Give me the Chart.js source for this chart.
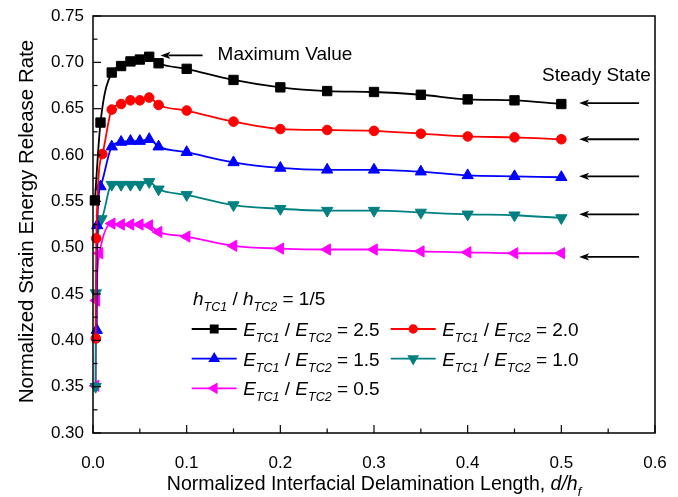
<!DOCTYPE html>
<html><head><meta charset="utf-8">
<script src="https://cdn.jsdelivr.net/npm/chart.js@4/dist/chart.umd.min.js"></script>
<style>html,body{margin:0;padding:0;background:#fff}canvas{display:block}</style>
</head><body>
<canvas id="c" width="678" height="497"></canvas>
<script>
// ---- data ----
const ratioLabels = ['2.5', '2.0', '1.5', '1.0', '0.5'];
const headerRatio = '1/5';
const xTickValues = [0, 0.1, 0.2, 0.3, 0.4, 0.5, 0.6];
const yTickValues = [0.30, 0.35, 0.40, 0.45, 0.50, 0.55, 0.60, 0.65, 0.70, 0.75];

const xBlack = [0.002, 0.008, 0.02, 0.03, 0.04, 0.05, 0.06, 0.07, 0.1, 0.15, 0.2, 0.25, 0.3, 0.35, 0.4, 0.45, 0.5];
const yBlack = [0.551, 0.635, 0.689, 0.696, 0.701, 0.703, 0.706, 0.699, 0.693, 0.681, 0.673, 0.669, 0.668, 0.665, 0.660, 0.659, 0.655];

const xRed = [0.003, 0.0035, 0.01, 0.02, 0.03, 0.04, 0.05, 0.06, 0.07, 0.1, 0.15, 0.2, 0.25, 0.3, 0.35, 0.4, 0.45, 0.5];
const yRed = [0.402, 0.510, 0.601, 0.649, 0.655, 0.659, 0.659, 0.662, 0.654, 0.648, 0.636, 0.628, 0.627, 0.626, 0.623, 0.620, 0.619, 0.617];

const xBlue = [0.004, 0.0045, 0.008, 0.02, 0.03, 0.04, 0.05, 0.06, 0.07, 0.1, 0.15, 0.2, 0.25, 0.3, 0.35, 0.4, 0.45, 0.5];
const yBlue = [0.411, 0.524, 0.566, 0.609, 0.614, 0.615, 0.615, 0.617, 0.609, 0.603, 0.592, 0.586, 0.584, 0.584, 0.582, 0.578, 0.577, 0.576];

const xTeal = [0.0028, 0.003, 0.009, 0.02, 0.03, 0.04, 0.05, 0.06, 0.07, 0.1, 0.15, 0.2, 0.25, 0.3, 0.35, 0.4, 0.45, 0.5];
const yTeal = [0.350, 0.451, 0.531, 0.568, 0.568, 0.568, 0.568, 0.571, 0.563, 0.557, 0.546, 0.542, 0.540, 0.540, 0.538, 0.536, 0.535, 0.532];

const xMagenta = [0.0028, 0.0036, 0.007, 0.02, 0.03, 0.04, 0.05, 0.06, 0.07, 0.1, 0.15, 0.2, 0.25, 0.3, 0.35, 0.4, 0.45, 0.5];
const yMagenta = [0.351, 0.443, 0.494, 0.526, 0.525, 0.525, 0.525, 0.524, 0.517, 0.512, 0.502, 0.499, 0.498, 0.498, 0.496, 0.495, 0.494, 0.494];

// annotations (data coordinates)
const steadyArrowY = [0.656, 0.617, 0.577, 0.536, 0.490];
const steadyArrowX = [0.519, 0.583];
const maxArrow = {xTip: 0.072, xTail: 0.117, y: 0.7075};
const maxText = {x: 0.133, y: 0.708, text: 'Maximum Value'};
const steadyText = {x: 0.5955, y: 0.686, text: 'Steady State'};

// ---- styles ----
const FONT = '"Liberation Sans", Arial, sans-serif';
const styles = [
  {color: '#000000', pointStyle: 'rect', radius: 6.6, rotation: 0, legR: 5},
  {color: '#ff0000', pointStyle: 'circle', radius: 4.8, rotation: 0, legR: 3.8},
  {color: '#0000ff', pointStyle: 'triangle', radius: 6.5, rotation: 0, legR: 5},
  {color: '#008080', pointStyle: 'triangle', radius: 6.5, rotation: 180, legR: 5},
  {color: '#ff00ff', pointStyle: 'triangle', radius: 6.5, rotation: 270, legR: 5}
];
const xs = [xBlack, xRed, xBlue, xTeal, xMagenta];
const ys = [yBlack, yRed, yBlue, yTeal, yMagenta];

const datasets = xs.map((xa, i) => ({
  label: 'E_TC1 / E_TC2 = ' + ratioLabels[i],
  data: xa.map((x, j) => ({x: x, y: ys[i][j]})),
  showLine: true,
  borderColor: styles[i].color,
  backgroundColor: styles[i].color,
  pointBackgroundColor: styles[i].color,
  pointBorderColor: styles[i].color,
  pointStyle: styles[i].pointStyle,
  pointRadius: styles[i].radius,
  pointRotation: styles[i].rotation,
  pointBorderWidth: 1,
  borderWidth: 1.8,
  cubicInterpolationMode: 'monotone',
  clip: 10
}));

function drawRich(ctx, x, baseline, parts, size, subSize) {
  let cx = x;
  for (const p of parts) {
    const fs = p.sub ? subSize : size;
    ctx.font = (p.italic ? 'italic ' : '') + fs + 'px ' + FONT;
    ctx.fillText(p.t, cx, baseline + (p.sub ? size * 0.33 : 0));
    cx += ctx.measureText(p.t).width;
  }
  return cx - x;
}
function measureRich(ctx, parts, size, subSize) {
  let w = 0;
  for (const p of parts) {
    const fs = p.sub ? subSize : size;
    ctx.font = (p.italic ? 'italic ' : '') + fs + 'px ' + FONT;
    w += ctx.measureText(p.t).width;
  }
  return w;
}
function ratioParts(letter, val) {
  return [{t: letter, italic: 1}, {t: 'TC1', italic: 1, sub: 1}, {t: ' / '},
          {t: letter, italic: 1}, {t: 'TC2', italic: 1, sub: 1}, {t: ' = ' + val}];
}
function arrow(ctx, x1, y1, x2, y2) { // from tail (x1,y1) to tip (x2,y2)
  const ang = Math.atan2(y2 - y1, x2 - x1);
  const L = 10, W = 3.6;
  ctx.beginPath();
  ctx.moveTo(x1, y1);
  ctx.lineTo(x2 - Math.cos(ang) * L * 0.8, y2 - Math.sin(ang) * L * 0.8);
  ctx.stroke();
  ctx.beginPath();
  ctx.moveTo(x2, y2);
  ctx.lineTo(x2 - Math.cos(ang) * L - Math.sin(ang) * W, y2 - Math.sin(ang) * L + Math.cos(ang) * W);
  ctx.lineTo(x2 - Math.cos(ang) * L * 0.75, y2 - Math.sin(ang) * L * 0.75);
  ctx.lineTo(x2 - Math.cos(ang) * L + Math.sin(ang) * W, y2 - Math.sin(ang) * L - Math.cos(ang) * W);
  ctx.closePath();
  ctx.fill();
}

const decor = {
  id: 'decor',
  afterDatasetsDraw(chart) {
    const {ctx, chartArea: a, scales: {x, y}} = chart;
    ctx.save();
    ctx.strokeStyle = '#000';
    ctx.lineWidth = 1.5;
    ctx.strokeRect(a.left, a.top, a.right - a.left, a.bottom - a.top);
    ctx.lineWidth = 1.2;
    // inward ticks, major + minor
    for (let k = 0; k <= 18; k++) {
      const v = 0.30 + k * 0.025;
      const py = y.getPixelForValue(v);
      const len = k % 2 === 0 ? 8 : 4.5;
      ctx.beginPath(); ctx.moveTo(a.left, py); ctx.lineTo(a.left + len, py); ctx.stroke();
    }
    for (let k = 0; k <= 12; k++) {
      const v = k * 0.05;
      const px = x.getPixelForValue(v);
      const len = k % 2 === 0 ? 8 : 4.5;
      ctx.beginPath(); ctx.moveTo(px, a.bottom); ctx.lineTo(px, a.bottom - len); ctx.stroke();
    }
    ctx.restore();
  },
  afterDraw(chart) {
    const {ctx, chartArea: a, scales: {x, y}} = chart;
    ctx.save();
    ctx.fillStyle = '#000';
    ctx.strokeStyle = '#000';
    ctx.lineWidth = 1.8;
    ctx.textBaseline = 'alphabetic';
    // steady-state arrows
    for (const v of steadyArrowY) {
      const py = y.getPixelForValue(v);
      arrow(ctx, x.getPixelForValue(steadyArrowX[1]), py, x.getPixelForValue(steadyArrowX[0]), py);
    }
    // max arrow
    const my = y.getPixelForValue(maxArrow.y);
    arrow(ctx, x.getPixelForValue(maxArrow.xTail), my, x.getPixelForValue(maxArrow.xTip), my);
    ctx.font = '19px ' + FONT;
    ctx.textBaseline = 'middle';
    ctx.textAlign = 'left';
    ctx.fillText(maxText.text, x.getPixelForValue(maxText.x), y.getPixelForValue(maxText.y));
    ctx.textAlign = 'right';
    ctx.fillText(steadyText.text, x.getPixelForValue(steadyText.x), y.getPixelForValue(steadyText.y));
    ctx.textAlign = 'left';
    ctx.textBaseline = 'alphabetic';

    // legend
    drawRich(ctx, 193, 305, [{t: 'h', italic: 1}, {t: 'TC1', italic: 1, sub: 1}, {t: ' / '},
      {t: 'h', italic: 1}, {t: 'TC2', italic: 1, sub: 1}, {t: ' = ' + headerRatio}], 19, 12.5);
    const rowsY = [329, 358.7, 388.3];
    const colX = [191.7, 390.7];
    styles.forEach((s, i) => {
      const row = Math.floor(i / 2), col = i % 2;
      const cy = rowsY[row], lx = colX[col];
      ctx.strokeStyle = s.color; ctx.fillStyle = s.color; ctx.lineWidth = 1.8;
      ctx.beginPath(); ctx.moveTo(lx, cy); ctx.lineTo(lx + 45, cy); ctx.stroke();
      Chart.helpers.drawPoint(ctx, {pointStyle: s.pointStyle, radius: s.legR, rotation: s.rotation, borderWidth: 1}, lx + 22.5, cy);
      ctx.fillStyle = '#000';
      drawRich(ctx, lx + 51.5, cy + 6.8, ratioParts('E', ratioLabels[i]), 19, 12.5);
    });

    // axis titles
    ctx.fillStyle = '#000';
    const xParts = [{t: 'Normalized Interfacial Delamination Length, '}, {t: 'd/h', italic: 1}, {t: 'f', italic: 1, sub: 1}];
    const w = measureRich(ctx, xParts, 19.5, 12.5);
    drawRich(ctx, (a.left + a.right) / 2 - w / 2, 490, xParts, 19.5, 12.5);
    ctx.translate(27, (a.top + a.bottom) / 2 - 3);
    ctx.rotate(-Math.PI / 2);
    ctx.font = '20.5px ' + FONT;
    ctx.textAlign = 'center';
    ctx.textBaseline = 'middle';
    ctx.fillText('Normalized Strain Energy Release Rate', 0, 0);
    ctx.restore();
  }
};

new Chart(document.getElementById('c'), {
  type: 'scatter',
  data: {datasets},
  plugins: [decor],
  options: {
    responsive: false,
    animation: false,
    devicePixelRatio: 1,
    layout: {padding: {left: 0, top: 16, right: 23, bottom: 0}},
    plugins: {legend: {display: false}, tooltip: {enabled: false}},
    scales: {
      x: {
        type: 'linear', min: 0, max: 0.6,
        afterBuildTicks: s => { s.ticks = xTickValues.map(v => ({value: v})); },
        afterFit: s => { s.height = 64; s.paddingLeft = 0; s.paddingRight = 0; },
        grid: {display: false, drawTicks: false},
        border: {display: false},
        ticks: {color: '#000', padding: 20, font: {family: FONT, size: 17}, callback: v => v.toFixed(1), maxRotation: 0}
      },
      y: {
        type: 'linear', min: 0.3, max: 0.75,
        afterBuildTicks: s => { s.ticks = yTickValues.map(v => ({value: v})); },
        afterFit: s => { s.width = 93; s.paddingTop = 0; s.paddingBottom = 0; },
        grid: {display: false, drawTicks: false},
        border: {display: false},
        ticks: {color: '#000', padding: 9, font: {family: FONT, size: 17}, callback: v => v.toFixed(2)}
      }
    }
  }
});
</script>
</body></html>
